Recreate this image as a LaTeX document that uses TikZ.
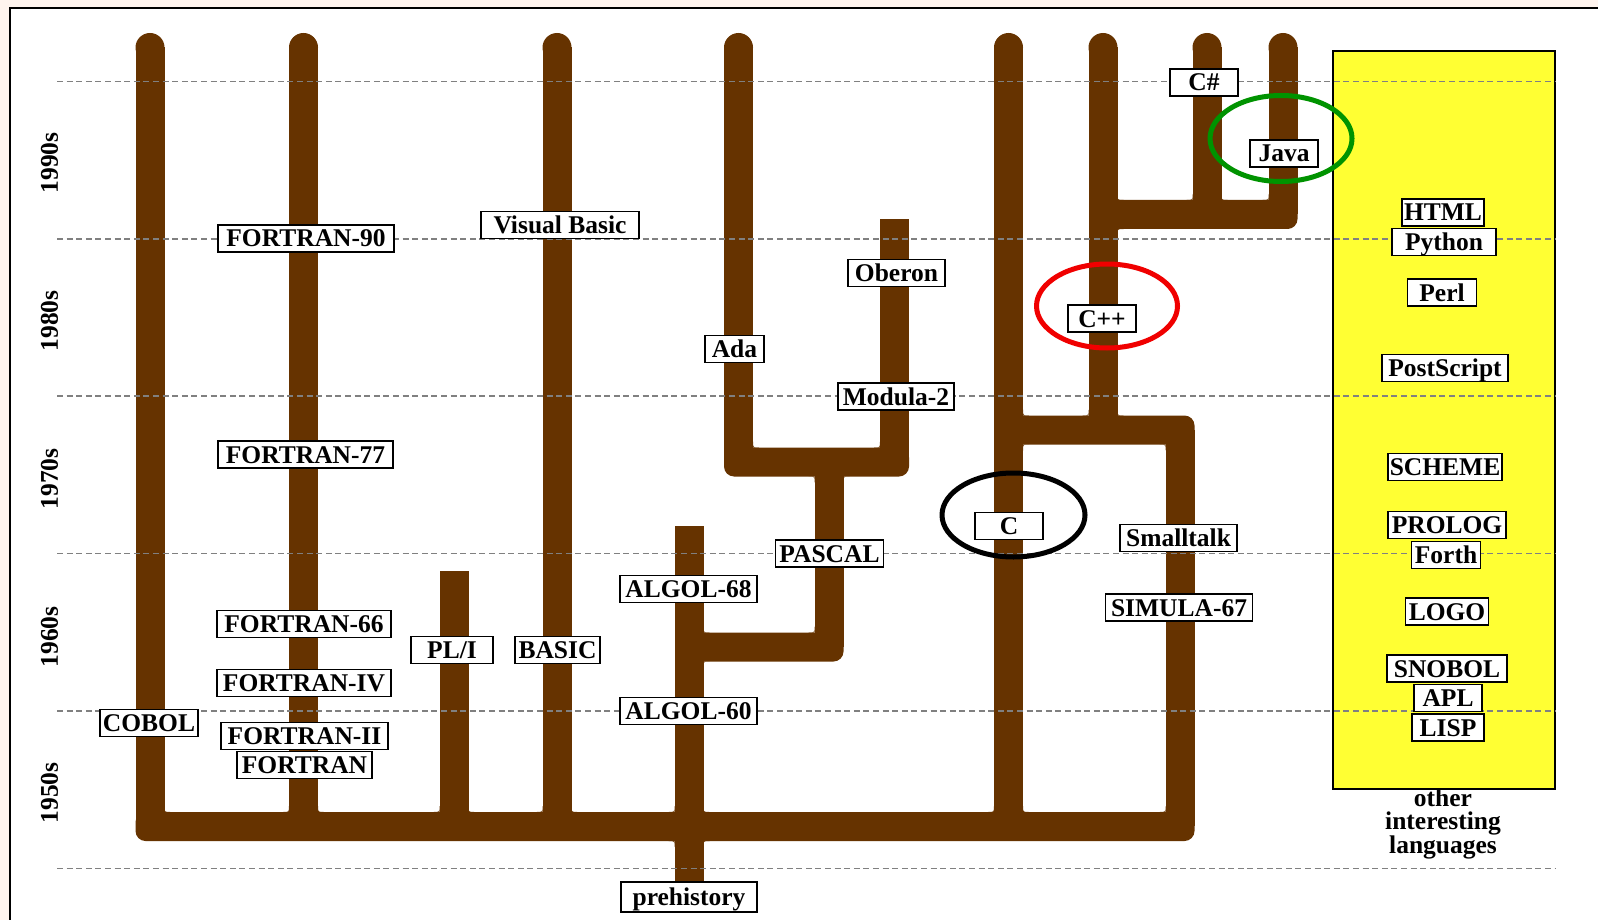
\documentclass[tikz,border=0pt]{standalone}
\usepackage{fontspec}
\setmainfont{Liberation Serif}
\definecolor{brn}{HTML}{663300}
\definecolor{ylw}{HTML}{FFFF33}
\definecolor{pinkbg}{HTML}{FFF4EE}
\definecolor{dgray}{HTML}{808080}
\definecolor{grn}{HTML}{009300}
\definecolor{rd}{HTML}{F00000}
\newcommand\roundtrunk[3]{\fill[brn] (#1-14.5,#2) rectangle (#1+14.5,#3); \fill[brn] (#1,#2) circle[radius=14.5pt];}
\newcommand\flattrunk[3]{\fill[brn] (#1-14.5,#2) rectangle (#1+14.5,#3);}
\newcommand\brbar[3]{\fill[brn, rounded corners=10pt] (#1,#3-14.5) rectangle (#2,#3+14.5);}
\newcommand\fillet[4]{\fill[brn] (#3,#2) .. controls (#1,#2) .. (#1,#4) -- (#1,#2) -- cycle;}
\begin{document}
\begin{tikzpicture}[x=1pt,y=-1pt,
  lang/.style={draw=black, fill=white, line width=1.6pt, inner xsep=0pt, inner ysep=0pt,
    minimum height=27pt, text height=21pt, text depth=4pt,
    font=\fontsize{25.5}{27}\selectfont\bfseries},
  decade/.style={rotate=90, inner sep=0pt, font=\fontsize{25.5}{27}\selectfont\bfseries},
  gridline/.style={draw=dgray, line width=1.5pt, dash pattern=on 6pt off 3.6pt},
  ring/.style={line width=5pt}]
\useasboundingbox (0,0) rectangle (1598,920);
\fill[pinkbg] (0,0) rectangle (1598,920);
\fill[white] (10,8) rectangle (1598,920);
\draw[line width=2pt] (10,920) -- (10,8) -- (1598,8);

% tree
\brbar{135.5}{1194.5}{826.5}
\roundtrunk{150}{47.5}{826}
\roundtrunk{303.5}{47.5}{826}
\flattrunk{454}{571}{826}
\roundtrunk{557}{47.5}{826}
\flattrunk{689}{526}{884}
\brbar{689}{843.5}{647}
\flattrunk{829}{462}{647}
\brbar{724}{909}{462}
\roundtrunk{738.5}{47.5}{462}
\flattrunk{894.5}{219}{462}
\roundtrunk{1008.5}{47.5}{826}
\brbar{1008.5}{1194.5}{430}
\flattrunk{1180}{430}{826}
\roundtrunk{1103}{47.5}{430}
\brbar{1103}{1297.5}{214.5}
\roundtrunk{1207}{47.5}{214.5}
\roundtrunk{1283}{47.5}{214.5}

% inner fillets
\fillet{164.5}{812}{170.5}{806}
\fillet{289}{812}{283}{806}
\fillet{318}{812}{324}{806}
\fillet{439.5}{812}{433.5}{806}
\fillet{468.5}{812}{474.5}{806}
\fillet{542.5}{812}{536.5}{806}
\fillet{571.5}{812}{577.5}{806}
\fillet{674.5}{812}{668.5}{806}
\fillet{703.5}{812}{709.5}{806}
\fillet{994}{812}{988}{806}
\fillet{1023}{812}{1029}{806}
\fillet{1165.5}{812}{1159.5}{806}
\fillet{674.5}{841}{668.5}{847}
\fillet{703.5}{841}{709.5}{847}
\fillet{703.5}{632.5}{709.5}{626.5}
\fillet{703.5}{661.5}{709.5}{667.5}
\fillet{814.5}{632.5}{808.5}{626.5}
\fillet{814.5}{476.5}{808.5}{482.5}
\fillet{843.5}{476.5}{849.5}{482.5}
\fillet{753}{447.5}{759}{441.5}
\fillet{880}{447.5}{874}{441.5}
\fillet{1023}{415.5}{1029}{409.5}
\fillet{1023}{444.5}{1029}{450.5}
\fillet{1088.5}{415.5}{1082.5}{409.5}
\fillet{1117.5}{415.5}{1123.5}{409.5}
\fillet{1165.5}{444.5}{1159.5}{450.5}
\fillet{1117.5}{200}{1123.5}{194}
\fillet{1117.5}{229}{1123.5}{235}
\fillet{1192.5}{200}{1186.5}{194}
\fillet{1221.5}{200}{1227.5}{194}
\fillet{1268.5}{200}{1262.5}{194}

% yellow box
\filldraw[fill=ylw, draw=black, line width=1.6pt] (1333,51) rectangle (1555,789);

% grid lines
\foreach \yy in {81.5,239,396,553.5,711,868.5}
  \draw[gridline] (57,\yy) -- (1555,\yy);

% decades
\node[decade] (d90) at (49.5,163) {1990s};
\node[decade] (d80) at (49.5,321) {1980s};
\node[decade] (d70) at (49.5,479) {1970s};
\node[decade] (d60) at (49.5,637) {1960s};
\node[decade] (d50) at (49.5,793) {1950s};

% language boxes
\node[lang, minimum width=68pt] (csharp) at (1204,82.5) {C\#};
\node[lang, minimum width=68pt] (java) at (1284,153.5) {Java};
\node[lang, minimum width=82pt] (html) at (1443,212.5) {HTML};
\node[lang, minimum width=104pt] (python) at (1444,242) {Python};
\node[lang, minimum width=69pt] (perl) at (1442,292.5) {Perl};
\node[lang, minimum width=126pt] (ps) at (1445,368) {PostScript};
\node[lang, minimum width=114pt] (scheme) at (1445,467) {SCHEME};
\node[lang, minimum width=118pt] (prolog) at (1447,525) {PROLOG};
\node[lang, minimum width=69pt] (forth) at (1446,555) {Forth};
\node[lang, minimum width=83pt] (logo) at (1447,611.5) {LOGO};
\node[lang, minimum width=120pt] (snobol) at (1447,668.5) {SNOBOL};
\node[lang, minimum width=68pt] (apl) at (1448,698) {APL};
\node[lang, minimum width=72pt] (lisp) at (1448,727.5) {LISP};
\node[lang, minimum width=176pt] (f90) at (306,238.5) {FORTRAN-90};
\node[lang, minimum width=158pt] (vb) at (560,225) {Visual Basic};
\node[lang, minimum width=97pt] (oberon) at (896.5,273) {Oberon};
\node[lang, minimum width=59pt] (ada) at (734.5,349) {Ada};
\node[lang, minimum width=68pt] (cpp) at (1102,318.5) {C++};
\node[lang, minimum width=116pt] (modula) at (896,396.5) {Modula-2};
\node[lang, minimum width=175pt] (f77) at (305.5,454.5) {FORTRAN-77};
\node[lang, minimum width=67.5pt] (c) at (1009,526) {C};
\node[lang, minimum width=117pt] (smalltalk) at (1178.5,538) {Smalltalk};
\node[lang, minimum width=108pt] (pascal) at (829.5,553.5) {PASCAL};
\node[lang, minimum width=137pt] (algol68) at (688.5,589) {ALGOL-68};
\node[lang, minimum width=147pt] (simula) at (1179,607.5) {SIMULA-67};
\node[lang, minimum width=174pt] (f66) at (304,624) {FORTRAN-66};
\node[lang, minimum width=82pt] (pli) at (452,650) {PL/I};
\node[lang, minimum width=85.5pt] (basic) at (557.5,650) {BASIC};
\node[lang, minimum width=174pt] (f4) at (304,683) {FORTRAN-IV};
\node[lang, minimum width=137pt] (algol60) at (688.5,711) {ALGOL-60};
\node[lang, minimum width=98pt] (cobol) at (149,723) {COBOL};
\node[lang, minimum width=167pt] (f2) at (304.5,736) {FORTRAN-II};
\node[lang, minimum width=134.5pt] (fortran) at (304.5,765) {FORTRAN};
\node[lang, minimum width=136.5pt, minimum height=29.5pt] (pre) at (689,897) {prehistory};

\node[align=center, inner sep=0pt, font=\fontsize{25.5}{22.5}\selectfont\bfseries] (other) at (1443,824) {other\\interesting\\languages};

% highlight rings
\draw[ring, draw=grn] (1281,138.5) ellipse [x radius=71pt, y radius=43pt];
\draw[ring, draw=rd] (1107,306) ellipse [x radius=70.5pt, y radius=42pt];
\draw[ring, draw=black] (1013.5,515) ellipse [x radius=71.5pt, y radius=42pt];
\end{tikzpicture}
\end{document}
